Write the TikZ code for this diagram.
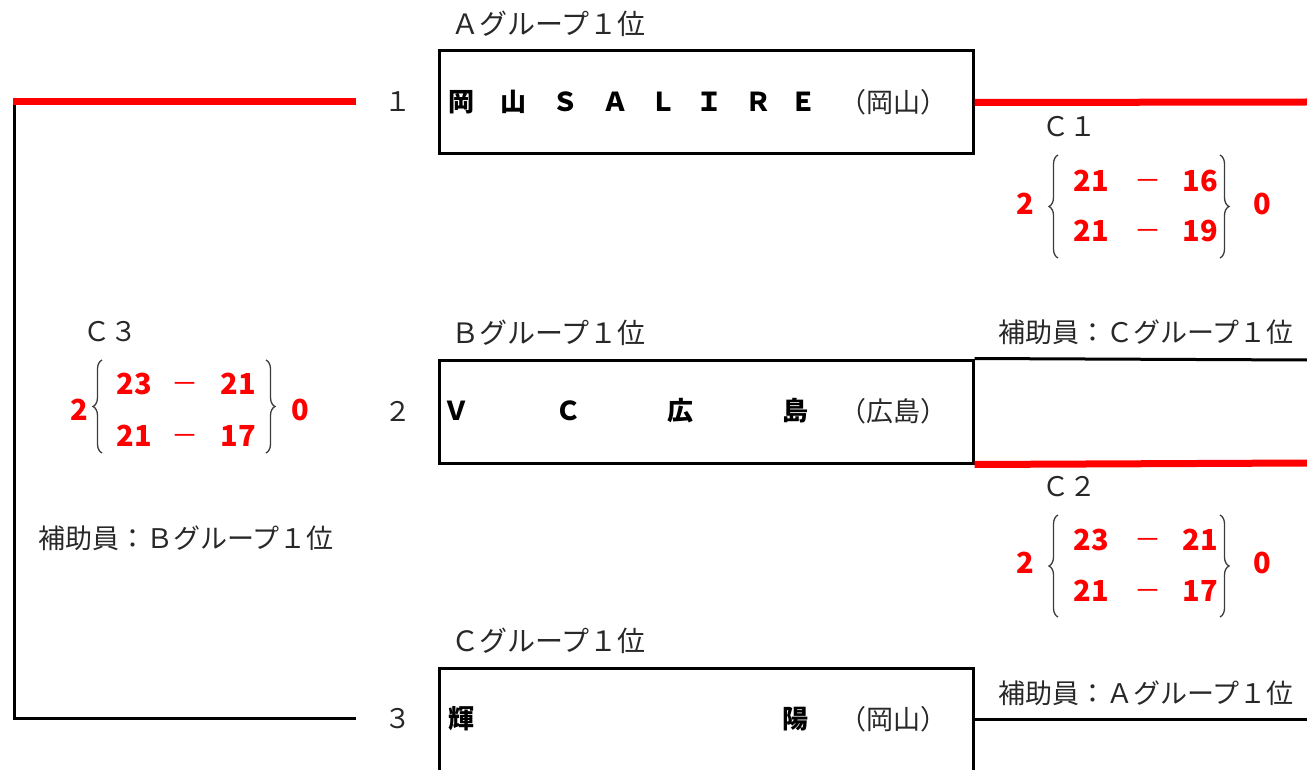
\documentclass[tikz,border=0pt]{standalone}
\usepackage{fontspec}
\setmainfont{Noto Sans CJK JP}
\usetikzlibrary{decorations.pathreplacing}
\definecolor{txtgray}{RGB}{40,40,40}
\definecolor{bracegray}{RGB}{60,60,60}
\tikzset{
  lbl/.style={font=\fontsize{27}{27}\selectfont, text=txtgray, inner sep=0pt},
  grp/.style={font=\fontsize{28}{28}\selectfont, text=txtgray, inner sep=0pt},
  teamch/.style={font=\fontsize{26}{26}\selectfont\bfseries, text=black, inner sep=0pt},
  score/.style={font=\fontsize{29}{29}\selectfont\bfseries, text=red, inner sep=0pt},
  dashch/.style={font=\fontsize{27}{27}\selectfont, text=red, inner sep=0pt, yshift=-4pt},
  teambox/.style={draw, line width=3pt, minimum width=534pt, minimum height=103pt, inner sep=0pt},
  win/.style={draw=red, line width=7pt},
  lose/.style={draw=black, line width=3pt},
  brc/.style={decorate, decoration={brace, amplitude=9pt, aspect=0.5}, line width=1.3pt, draw=bracegray},
}
\begin{document}
\begin{tikzpicture}[x=1pt,y=-1pt]
\useasboundingbox (0,0) rectangle (1307,770);
% team boxes
\node[teambox] (t1) at (706,102.5) {};
\node[teambox] (t2) at (706,411.5) {};
\node[teambox, minimum height=104pt] (t3) at (706,720) {};
% group labels
\node[grp, anchor=west] (g1) at (451,24) {Ａグループ１位};
\node[grp, anchor=west] (g2) at (451,333) {Ｂグループ１位};
\node[grp, anchor=west] (g3) at (451,641) {Ｃグループ１位};
% seeds
\node[lbl] (s1) at (398,102) {１};
\node[lbl] (s2) at (398,411) {２};
\node[lbl] (s3) at (398,719) {３};
% team names
\foreach \c/\x [count=\i] in {岡/461,山/513,Ｓ/565,Ａ/615,Ｌ/663,Ｉ/709,Ｒ/758,Ｅ/803}
  \node[teamch] (n1\i) at (\x,102) {\c};
\node[lbl] (p1) at (893,102) {（岡山）};
\foreach \c/\x [count=\i] in {Ｖ/456,Ｃ/568,広/680,島/795}
  \node[teamch] (n2\i) at (\x,411) {\c};
\node[lbl] (p2) at (893,411) {（広島）};
\foreach \c/\x [count=\i] in {輝/461,陽/795}
  \node[teamch] (n3\i) at (\x,719) {\c};
\node[lbl] (p3) at (893,719) {（岡山）};
% left bracket
\coordinate (la) at (356,102);
\coordinate (lb) at (14,102);
\coordinate (lc) at (14,718);
\coordinate (ld) at (356,718);
\draw[lose] (lb) -- (lc) -- (ld);
\draw[win] (la) -- ([xshift=-1.5pt]lb);
% right lines
\coordinate (r1) at (1307,102);
\coordinate (r2) at (1307,360);
\coordinate (r3) at (1307,463);
\coordinate (r4) at (1307,719);
\draw[win] (t1.east) -- (r1);
\draw[lose] (t2.north east) -- (r2);
\draw[win] (t2.south east) -- (r3);
\draw[lose] (973,719) -- (r4);
% match labels
\node[lbl, anchor=west] (c1) at (1042,127) {Ｃ１};
\node[lbl, anchor=west] (c2) at (1042,487) {Ｃ２};
\node[lbl, anchor=west] (c3) at (83,332) {Ｃ３};
\node[lbl, anchor=west] (h1) at (998,332) {補助員：Ｃグループ１位};
\node[lbl, anchor=west] (h2) at (998,693) {補助員：Ａグループ１位};
\node[lbl, anchor=west] (h3) at (38,538) {補助員：Ｂグループ１位};
% C1 score
\node[score] (c1w) at (1025,204) {2};
\node[score] (c1l) at (1262,204) {0};
\node[score] (c1a) at (1091,181) {21};
\node[dashch] (c1b) at (1148,181) {－};
\node[score] (c1c) at (1200,181) {16};
\node[score] (c1d) at (1091,231) {21};
\node[dashch] (c1e) at (1148,231) {－};
\node[score] (c1f) at (1200,231) {19};
\draw[brc] (1058,258) -- (1058,155);
\draw[brc] (1220,155) -- (1220,258);
% C2 score
\node[score] (c2w) at (1025,563) {2};
\node[score] (c2l) at (1262,563) {0};
\node[score] (c2a) at (1091,540) {23};
\node[dashch] (c2b) at (1148,540) {－};
\node[score] (c2c) at (1200,540) {21};
\node[score] (c2d) at (1091,591) {21};
\node[dashch] (c2e) at (1148,591) {－};
\node[score] (c2f) at (1200,591) {17};
\draw[brc] (1058,617) -- (1058,515);
\draw[brc] (1220,515) -- (1220,617);
% C3 score
\node[score] (c3w) at (79,410) {2};
\node[score] (c3l) at (300,410) {0};
\node[score] (c3a) at (134,384) {23};
\node[dashch] (c3b) at (185,384) {－};
\node[score] (c3c) at (238,384) {21};
\node[score] (c3d) at (134,436) {21};
\node[dashch] (c3e) at (185,436) {－};
\node[score] (c3f) at (238,436) {17};
\draw[brc] (102,453) -- (102,360);
\draw[brc] (266,360) -- (266,453);
\end{tikzpicture}
\end{document}
